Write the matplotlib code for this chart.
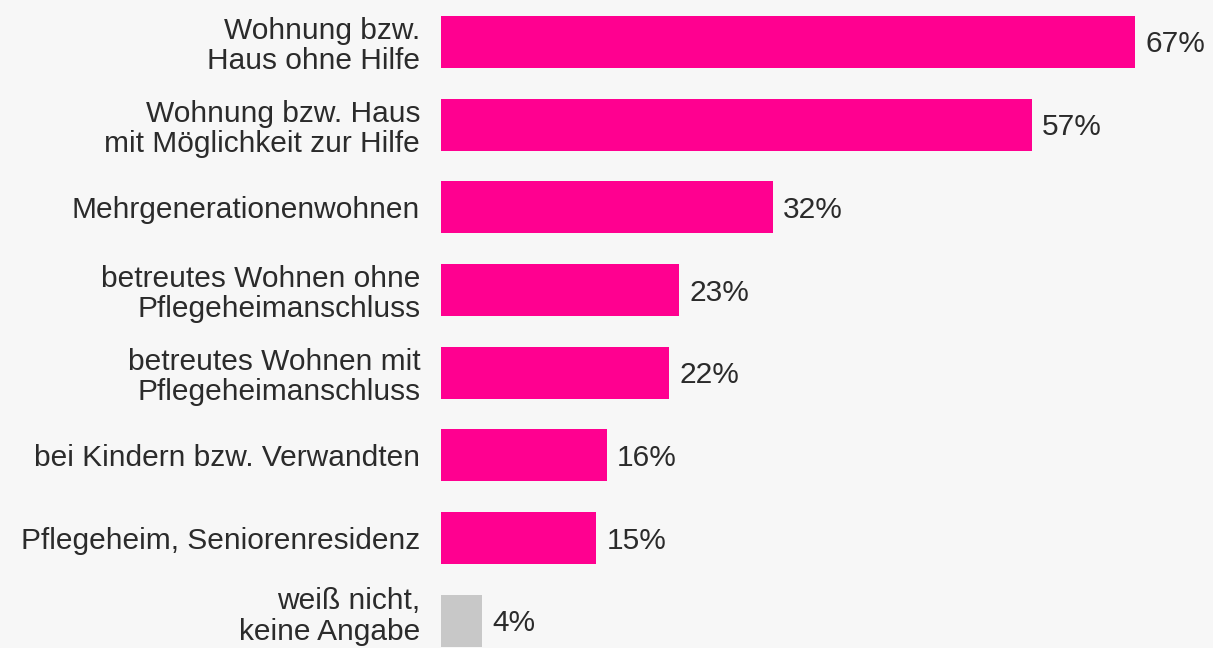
import matplotlib.pyplot as plt
from matplotlib.transforms import ScaledTranslation

plt.rcParams['font.family'] = ['Liberation Sans', 'DejaVu Sans']

categories = [
    "Wohnung bzw.\nHaus ohne Hilfe",
    "Wohnung bzw. Haus\nmit Möglichkeit zur Hilfe",
    "Mehrgenerationenwohnen",
    "betreutes Wohnen ohne\nPflegeheimanschluss",
    "betreutes Wohnen mit\nPflegeheimanschluss",
    "bei Kindern bzw. Verwandten",
    "Pflegeheim, Seniorenresidenz",
    "weiß nicht,\nkeine Angabe",
]
values = [67, 57, 32, 23, 22, 16, 15, 4]
colors = ["#ff0090"] * 7 + ["#c8c8c8"]

bg = "#f7f7f7"
text_color = "#2b2b2b"
fs = 21.5

fig = plt.figure(figsize=(12.13, 6.48), dpi=100, facecolor=bg)
ax = fig.add_axes([441 / 1213, 0, 772 / 1213, 1])
ax.set_facecolor(bg)

pos = list(range(len(values)))
ax.barh(pos, values, height=0.63, color=colors)

for y, v in zip(pos, values):
    ax.text(v + 1.0, y + 0.03, f"{v}%", va="center", ha="left",
            fontsize=fs, color=text_color)

ax.set_xlim(0, 74.5)
ax.set_ylim(7.33, -0.508)
ax.set_yticks(pos)
ax.set_yticklabels(categories, fontsize=fs, color=text_color, linespacing=1.1)
ax.tick_params(axis="y", length=0, pad=15)
ax.set_xticks([])
for s in ax.spines.values():
    s.set_visible(False)

# last label sits at the bottom edge, lift it a little so it stays readable
last = ax.get_yticklabels()[-1]
last.set_transform(last.get_transform() + ScaledTranslation(0, 6 / 72, fig.dpi_scale_trans))

fig.savefig("out.png", dpi=100, facecolor=bg)
